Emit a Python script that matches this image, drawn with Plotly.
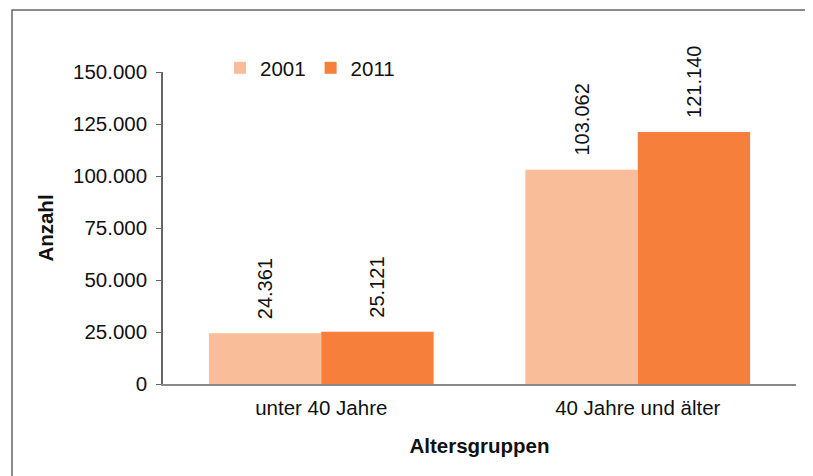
import plotly.graph_objects as go

categories = ["unter 40 Jahre", "40 Jahre und älter"]
series_names = ["2001", "2011"]
values_2001 = [24361, 103062]
values_2011 = [25121, 121140]
tick_values = [0, 25000, 50000, 75000, 100000, 125000, 150000]

colors = ["#FABD9A", "#F67F3B"]
font_family = "Liberation Sans, Arial, sans-serif"

fig = go.Figure()
for name, vals, col in zip(series_names, [values_2001, values_2011], colors):
    fig.add_trace(go.Bar(
        name=name, x=categories, y=vals, marker=dict(color=col, line=dict(width=0)),
        text=vals, texttemplate="\u00a0\u00a0%{y:,}", textposition="outside", textangle=-90,
        textfont=dict(size=20, color="#111111", family=font_family),
        cliponaxis=False,
    ))

# page is offset by 8px (body margin) in the screenshot
OFF = 8
W, H = 813 - OFF, 476 - OFF
L, T = 163 - OFF, 72 - OFF
pw, ph = 633, 312
R = W - L - pw
B = H - T - ph

def px(x):
    return (x - OFF - L) / pw

def py(y):
    return (T + ph - (y - OFF)) / ph

fig.add_shape(type="rect", xref="paper", yref="paper",
              x0=px(12), y0=py(700), x1=px(900), y1=py(10),
              line=dict(color="#666666", width=1.5), fillcolor="rgba(0,0,0,0)", layer="below")

fig.update_layout(
    width=W, height=H,
    margin=dict(l=L, r=R, t=T, b=B, pad=0),
    paper_bgcolor="white", plot_bgcolor="white",
    separators=",.",
    barmode="group", bargap=0.29, bargroupgap=0,
    font=dict(family=font_family, size=20, color="#111111"),
    uniformtext=dict(minsize=20, mode="show"),
    legend=dict(orientation="h", x=px(220), xanchor="left", y=py(68), yanchor="middle",
                font=dict(size=20.5), itemwidth=30, itemsizing="constant",
                bgcolor="rgba(0,0,0,0)", traceorder="normal"),
    xaxis=dict(showline=True, linecolor="#888888", linewidth=1.5, ticks="",
               tickfont=dict(size=20.5), showgrid=False, ticklabelstandoff=5,
               title=dict(text="<b>Altersgruppen</b>", font=dict(size=20.5), standoff=20)),
    yaxis=dict(range=[0, 150000], tickvals=tick_values, tickformat=",",
               showline=True, linecolor="#666666", linewidth=1.5,
               ticks="outside", ticklen=5, tickcolor="#666666", tickwidth=1.2,
               ticklabelstandoff=5,
               showgrid=False, zeroline=False, tickfont=dict(size=20.5),
               title=dict(text="<b>Anzahl</b>", font=dict(size=20.5), standoff=14)),
)

fig.write_html("out.html")
